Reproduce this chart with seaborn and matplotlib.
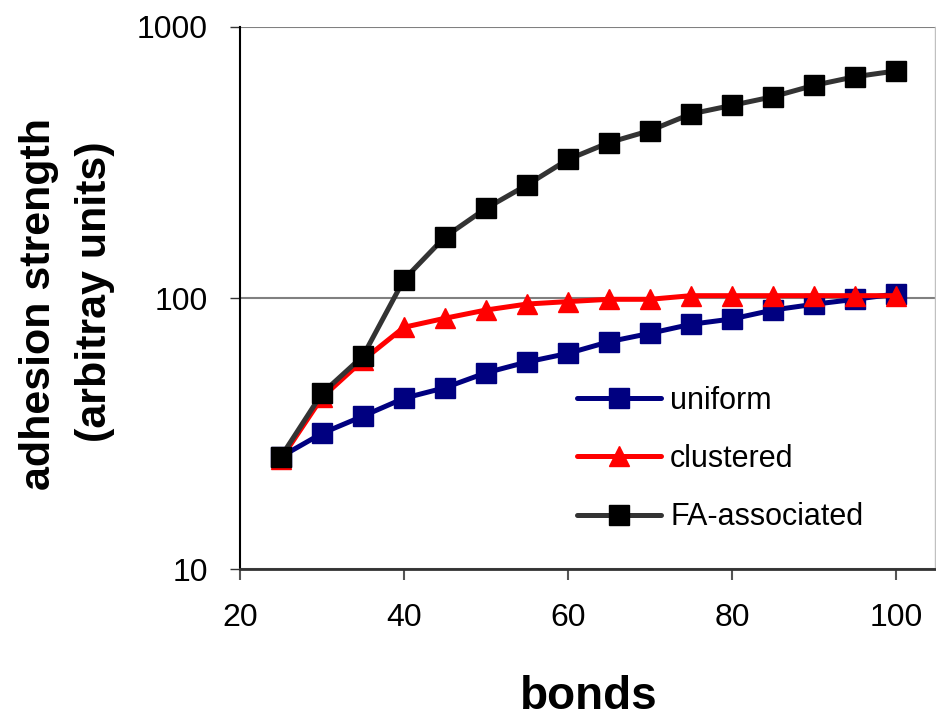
import matplotlib
matplotlib.use("Agg")
import matplotlib.pyplot as plt
import seaborn as sns
import numpy as np
import pandas as pd
from matplotlib.ticker import NullLocator

# ---- data ----
bonds = [25, 30, 35, 40, 45, 50, 55, 60, 65, 70, 75, 80, 85, 90, 95, 100]
uniform = [26, 31.7, 36.7, 42.7, 46.7, 53, 58.1, 62.5, 69, 74.1, 80, 83.7, 90.3, 94.8, 98.9, 103.5]
clustered = [25.5, 43, 59, 78, 84.2, 90.3, 95, 97, 98.9, 98.9, 102, 102, 102, 102, 102, 102]
fa_associated = [26, 44.5, 61.1, 117, 168, 214, 261, 324, 374, 414, 477, 513, 552, 608, 654, 687]
series_names = ["uniform", "clustered", "FA-associated"]
x_ticks = [20, 40, 60, 80, 100]
y_ticks = [10, 100, 1000]
y_tick_labels = ["10", "100", "1000"]

sns.set_style("white")
plt.rcParams["font.family"] = ["Liberation Sans", "DejaVu Sans"]
plt.rcParams["text.color"] = "black"
plt.rcParams["axes.labelcolor"] = "black"
plt.rcParams["xtick.color"] = "black"
plt.rcParams["ytick.color"] = "black"

W, H = 936, 719
fig = plt.figure(figsize=(W / 100, H / 100), dpi=100)
left, right, top, bottom = 240, 935, 26.7, 569.3
ax = fig.add_axes([left / W, (H - bottom) / H, (right - left) / W, (bottom - top) / H])

styles = [
    dict(color="#000080", marker="s", markerfacecolor="#000080", markeredgecolor="#000080"),
    dict(color="#FF0000", marker="^", markerfacecolor="#FF0000", markeredgecolor="#FF0000"),
    dict(color="#333333", marker="s", markerfacecolor="#000000", markeredgecolor="#000000"),
]
for name, vals, st in zip(series_names, [uniform, clustered, fa_associated], styles):
    sns.lineplot(x=bonds, y=vals, ax=ax, label=name, linewidth=3.6, markersize=15,
                 markeredgewidth=1, **st)

ax.set_yscale("log")
ax.set_ylim(10, 1000)
ax.set_xlim(20, 104.76)
ax.set_xticks(x_ticks)
ax.set_xticklabels([str(t) for t in x_ticks])
ax.set_yticks(y_ticks)
ax.set_yticklabels(y_tick_labels)
ax.yaxis.set_minor_locator(NullLocator())
ax.xaxis.set_minor_locator(NullLocator())

ax.yaxis.grid(True, color="#808080", linewidth=1.5)
ax.xaxis.grid(False)
ax.set_axisbelow(True)
ax.spines["top"].set_visible(False)
ax.spines["right"].set_color("#c0c0c0")
ax.spines["right"].set_linewidth(1)
ax.spines["left"].set_color("#000000")
ax.spines["left"].set_linewidth(1.5)
ax.spines["bottom"].set_color("#333333")
ax.spines["bottom"].set_linewidth(2)

ax.tick_params(axis="y", direction="out", length=7, width=1, color="#333333",
               pad=16, labelsize=23, labelcolor="black", left=True)
ax.tick_params(axis="x", direction="out", length=8, width=1.5, color="#555555",
               pad=16, labelsize=23, labelcolor="black", bottom=True)
ax.set_xlabel("")
ax.set_ylabel("")

ax.legend(loc="upper left", bbox_to_anchor=(577 / W, 1 - 386 / H),
          bbox_transform=fig.transFigure, frameon=False, fontsize=22,
          handlelength=2.75, handletextpad=0.3, labelspacing=0.92,
          borderpad=0, borderaxespad=0, labelcolor="black")

fig.text(589 / W, 1 - 709 / H, "bonds", ha="center", va="baseline",
         fontsize=33, fontweight="bold", color="black")
fig.text(39 / W, 1 - 304 / H, "adhesion strength", rotation=90, ha="center",
         va="center", fontsize=31, fontweight="bold", color="black")
fig.text(95 / W, 1 - 292 / H, "(arbitray units)", rotation=90, ha="center",
         va="center", fontsize=31, fontweight="bold", color="black")

fig.savefig("out.png", dpi=100)
